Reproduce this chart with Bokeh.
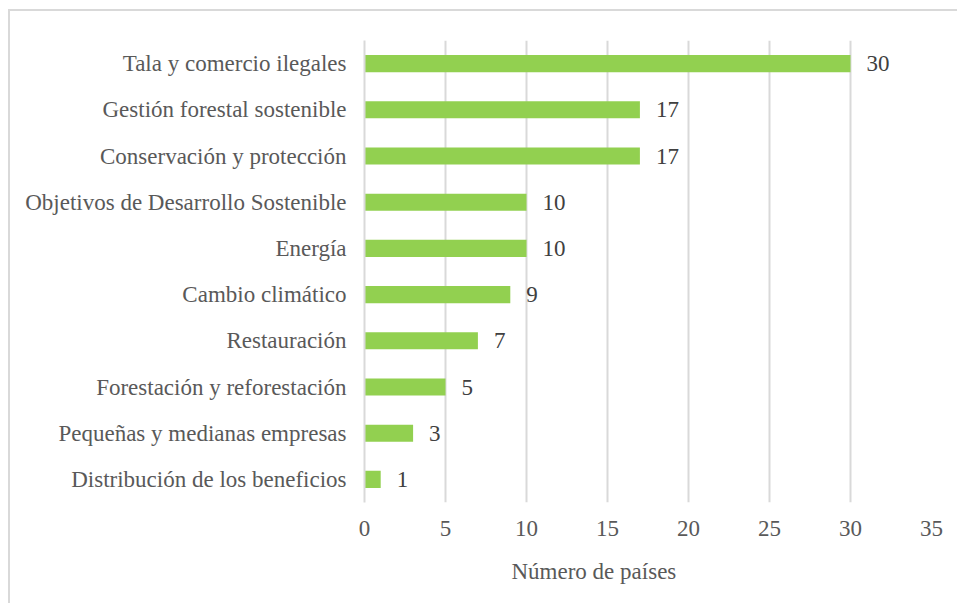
from bokeh.plotting import figure
from bokeh.models import ColumnDataSource, Range1d, FactorRange, Title, FixedTicker
from bokeh.core.properties import value
from bokeh.embed import file_html
from bokeh.resources import INLINE

categories = [
    "Tala y comercio ilegales",
    "Gestión forestal sostenible",
    "Conservación y protección",
    "Objetivos de Desarrollo Sostenible",
    "Energía",
    "Cambio climático",
    "Restauración",
    "Forestación y reforestación",
    "Pequeñas y medianas empresas",
    "Distribución de los beneficios",
]
counts = [30, 17, 17, 10, 10, 9, 7, 5, 3, 1]
x_ticks = [0, 5, 10, 15, 20, 25, 30, 35]
x_title = "Número de países"

FONT = "Liberation Serif"
FS = "23px"

src = ColumnDataSource(dict(cat=categories, n=counts, lbl=[str(v) for v in counts]))

p = figure(
    width=958, height=597,
    y_range=FactorRange(factors=list(reversed(categories))),
    x_range=Range1d(0, 35),
    output_backend="svg", toolbar_location=None,
    min_border_left=354, min_border_right=37, min_border_top=29, min_border_bottom=106,
    styles={"margin-left": "8px", "margin-top": "9px",
            "border-left": "2px solid #d9d9d9", "border-top": "2px solid #d9d9d9"},
)
p.outline_line_color = None
p.background_fill_color = "white"
p.border_fill_color = "white"

p.hbar(y="cat", right="n", left=0, height=0.37, source=src,
       fill_color="#92D050", line_color=None)

p.text(x="n", y="cat", text="lbl", source=src, x_offset=16,
       text_baseline="middle", text_align="left",
       text_font=value(FONT), text_font_size=FS, text_color="#404040")

p.xaxis.ticker = FixedTicker(ticks=x_ticks)
p.xaxis.axis_line_color = None
p.xaxis.major_tick_line_color = None
p.xaxis.minor_tick_line_color = None
p.xaxis.major_tick_out = 0
p.xaxis.major_label_standoff = 18
p.xaxis.major_label_text_font = FONT
p.xaxis.major_label_text_font_size = FS
p.xaxis.major_label_text_color = "#595959"

p.yaxis.axis_line_color = "#d9d9d9"
p.yaxis.axis_line_width = 2
p.yaxis.major_tick_line_color = None
p.yaxis.minor_tick_line_color = None
p.yaxis.major_tick_out = 0
p.yaxis.major_label_standoff = 18
p.yaxis.major_label_text_font = FONT
p.yaxis.major_label_text_font_size = FS
p.yaxis.major_label_text_color = "#595959"

p.xgrid.grid_line_color = "#d9d9d9"
p.xgrid.grid_line_width = 2
p.ygrid.grid_line_color = None

p.add_layout(Title(text=x_title, align="left", offset=147, standoff=36,
                   text_font=FONT, text_font_size=FS, text_font_style="normal",
                   text_color="#595959"), "below")

open("out.html", "w").write(file_html(p, INLINE))
